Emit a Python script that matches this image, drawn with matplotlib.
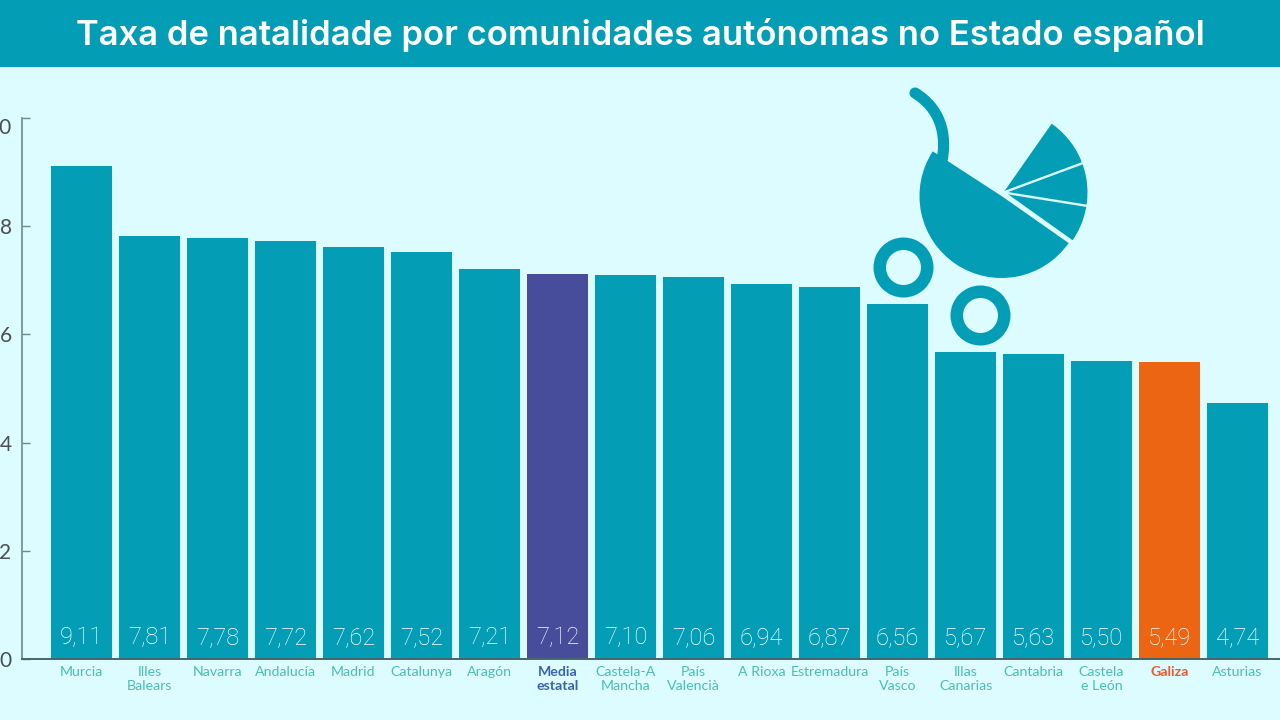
import matplotlib
matplotlib.use('Agg')
import matplotlib.pyplot as plt
from matplotlib.patches import Rectangle, Wedge, PathPatch
from matplotlib.path import Path

TEAL = '#039db6'
BG = '#dcfcff'
PURPLE = '#474c9b'
ORANGE = '#ec6513'
LABEL = '#4dbdb0'

regions = ['Murcia', 'Illes\nBalears', 'Navarra', 'Andalucía', 'Madrid', 'Catalunya',
           'Aragón', 'Media\nestatal', 'Castela-A\nMancha', 'País\nValencià', 'A Rioxa',
           'Estremadura', 'País\nVasco', 'Illas\nCanarias', 'Cantabria', 'Castela\ne León',
           'Galiza', 'Asturias']
rates = [9.11, 7.81, 7.78, 7.72, 7.62, 7.52, 7.21, 7.12, 7.10, 7.06, 6.94, 6.87,
         6.56, 5.67, 5.63, 5.50, 5.49, 4.74]
y_ticks = [0, 2, 4, 6, 8, 10]
title = 'Taxa de natalidade por comunidades autónomas no Estado español'

plt.rcParams['font.family'] = ['Lato', 'DejaVu Sans']

W, H = 1280, 720
fig = plt.figure(figsize=(W / 100, H / 100), dpi=100, facecolor=BG)

# chart area, placed in pixels
ax_left, ax_top, ax_bottom = 22, 118, 659
ax = fig.add_axes([ax_left / W, 1 - ax_bottom / H, 1 - ax_left / W, (ax_bottom - ax_top) / H])
ax.set_facecolor('none')

bar_colors = [TEAL] * len(rates)
bar_colors[regions.index('Media\nestatal')] = PURPLE
bar_colors[regions.index('Galiza')] = ORANGE
ax.bar(range(len(rates)), rates, width=61 / 68, color=bar_colors)

for i, v in enumerate(rates):
    ax.text(i, 0.39, f'{v:.2f}'.replace('.', ','), color='white', fontsize=17,
            family=['Roboto', 'Lato'], fontweight='light', ha='center', va='center')

ax.set_xlim((ax_left - 81.5) / 68, (W - 81.5) / 68)
ax.set_ylim(0, 10)
ax.set_yticks(y_ticks)
ax.tick_params(axis='y', direction='in', length=6, width=1, color='#6d8a8f',
               labelsize=15, labelcolor='#4a4f52', pad=7.5)
# the top label hangs below its tick
ax.get_yticklabels()[-1].set_verticalalignment('top')
ax.set_xticks(range(len(regions)))
ax.set_xticklabels(regions, fontsize=10.2, linespacing=1.2)
ax.tick_params(axis='x', length=0, pad=5, labelcolor=LABEL)
for lab in ax.get_xticklabels():
    if lab.get_text() == 'Media\nestatal':
        lab.set_color('#3b62ad')
        lab.set_fontweight('bold')
    elif lab.get_text() == 'Galiza':
        lab.set_color('#ee5a30')
        lab.set_fontweight('bold')

for side in ['top', 'right']:
    ax.spines[side].set_visible(False)
ax.spines['left'].set_color('#6d8a8f')
ax.spines['left'].set_linewidth(1.2)
ax.spines['bottom'].set_color('#46666c')
ax.spines['bottom'].set_linewidth(1.4)

# overlay in pixel coordinates for the header band and the pram
deco = fig.add_axes([0, 0, 1, 1])
deco.set_xlim(0, W)
deco.set_ylim(H, 0)
deco.axis('off')
deco.patch.set_alpha(0)

deco.add_patch(Rectangle((0, 0), W, 66.5, color=TEAL, lw=0))
deco.text(640.5, 35, title, color='white', fontsize=24.9, fontweight='semibold',
          family=['Inter', 'Lato'], ha='center', va='center')

# pram basket
deco.add_patch(Wedge((1001.5, 196), 82, 35, 213, color=TEAL, lw=0))
hub = (1003.5, 192.5)
deco.add_patch(Wedge(hub, 84, -55, 35, color=TEAL, lw=0))
for end in [(1083, 163), (1088, 206), (1073, 242)]:
    deco.plot([hub[0], end[0]], [hub[1], end[1]], color=BG, lw=1.7, solid_capstyle='butt')

# handle
handle = Path([(915, 93), (938, 107), (949, 132), (941, 165)],
              [Path.MOVETO, Path.CURVE4, Path.CURVE4, Path.CURVE4])
deco.add_patch(PathPatch(handle, fc='none', ec=TEAL, lw=8, capstyle='round'))

# wheels
for c in [(903.5, 267.5), (980.5, 315.5)]:
    deco.add_patch(Wedge(c, 30, 0, 360, width=12.5, color=TEAL, lw=0))

fig.savefig('out.png', dpi=100, facecolor=BG)
